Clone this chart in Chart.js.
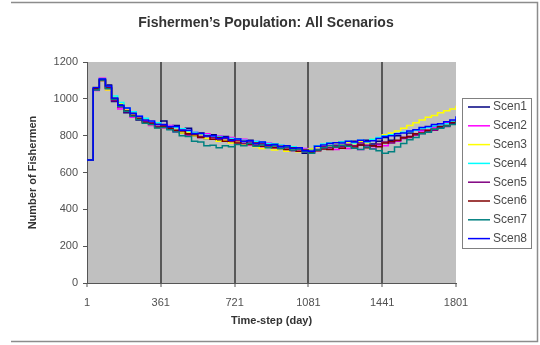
<!DOCTYPE html>
<html>
<head>
<meta charset="utf-8">
<script src="https://cdn.jsdelivr.net/npm/chart.js@4"></script>
<style>
  html, body { margin: 0; padding: 0; background: #ffffff; }
  #wrap { width: 540px; height: 345px; }
</style>
</head>
<body>
<div id="wrap"><canvas id="chart" width="540" height="345"></canvas></div>
<script>
// Sampling days (monthly steps over the 1801-day run)
const days = [1,31,61,91,121,151,181,211,241,271,301,331,361,391,421,451,481,511,541,571,
  601,631,661,691,721,751,781,811,841,871,901,931,961,991,1021,1051,1081,1111,1141,1171,
  1201,1231,1261,1291,1321,1351,1381,1411,1441,1471,1501,1531,1561,1591,1621,1651,1681,1711,1741,1771,1801];

// Fishermen counts per scenario
const scen1 = [668,1055,1100,1075,985,970,925,930,885,880,870,860,880,845,855,815,840,800,815,785,
  805,775,795,765,780,755,775,745,760,740,755,730,745,720,735,705,725,745,735,760,
  740,765,745,770,750,775,755,770,790,775,800,790,815,805,830,825,850,845,870,865,890];
const scen2 = [668,1045,1112,1050,995,945,940,900,905,880,855,870,840,855,820,835,800,820,790,810,
  780,800,770,790,760,780,750,770,740,760,735,750,725,740,715,730,705,720,730,745,
  725,750,730,745,725,740,730,750,745,765,770,790,795,805,825,830,845,855,870,880,900];
const scen3 = [668,1062,1098,1048,1010,975,940,915,890,890,860,865,845,835,845,815,820,800,805,785,
  790,770,775,760,768,750,755,740,730,738,722,728,715,722,712,718,728,740,750,745,
  760,748,765,758,770,762,780,785,805,815,825,840,855,870,885,900,910,925,935,945,962];
const scen4 = [668,1058,1108,1065,1015,980,950,930,905,895,875,870,855,850,845,838,825,818,810,802,
  795,795,785,785,780,775,770,770,765,758,755,750,745,740,730,725,720,745,755,760,
  750,765,770,760,775,765,780,790,800,805,812,818,822,830,840,845,852,858,865,878,900];
const scen5 = [668,1050,1100,1062,990,955,930,920,888,875,870,850,855,835,825,830,805,812,795,800,
  790,780,785,770,772,758,765,750,755,738,745,730,735,720,728,712,715,725,740,735,
  748,740,752,745,760,748,742,755,765,760,772,785,790,805,812,825,830,848,850,870,880];
const scen6 = [668,1055,1105,1058,1000,960,935,910,895,870,865,845,850,840,830,825,810,805,790,800,
  780,790,770,778,760,770,752,760,742,750,735,742,725,735,715,722,708,718,728,725,
  740,732,745,738,750,735,745,740,760,768,775,790,795,810,815,830,835,850,855,872,885];
const scen7 = [668,1048,1102,1055,998,960,932,905,888,868,860,842,845,832,820,800,795,770,765,745,
  748,735,745,740,752,745,758,742,750,735,745,730,738,722,728,712,705,722,735,745,
  738,748,742,732,725,738,728,718,705,712,738,758,778,790,810,818,835,840,852,860,878];
const scen8 = [668,1062,1108,1070,1005,965,950,920,905,885,880,862,860,848,850,830,830,810,812,798,
  800,785,790,775,782,768,772,758,765,748,752,740,745,732,735,718,715,742,750,758,
  762,760,770,765,775,768,772,785,795,800,810,815,825,832,845,850,860,865,875,885,905];

const seriesNames = ['Scen1','Scen2','Scen3','Scen4','Scen5','Scen6','Scen7','Scen8'];
const seriesValues = [scen1, scen2, scen3, scen4, scen5, scen6, scen7, scen8];
const seriesColors = ['#000080','#ff00ff','#ffff00','#00ffff','#800080','#800000','#008080','#0000ff'];

const xTickValues = [1, 361, 721, 1081, 1441, 1801];
const yMin = 0, yMax = 1200, yStep = 200;

const chartTitle = 'Fishermen\u2019s Population: All Scenarios';
const xTitle = 'Time-step (day)';
const yTitle = 'Number of Fishermen';

// Each value holds until the next sampling day
const datasets = seriesNames.map((name, i) => ({
  label: name,
  data: days.map((d, k) => ({ x: d, y: seriesValues[i][k] })),
  borderColor: seriesColors[i],
  backgroundColor: seriesColors[i],
  borderWidth: 1.5,
  pointRadius: 0,
  stepped: 'before',
  fill: false,
  order: seriesNames.length - i
}));

// Grey plot area
const plotBackground = {
  id: 'plotBackground',
  beforeDraw(chart) {
    const { ctx, chartArea: a } = chart;
    ctx.save();
    ctx.fillStyle = '#c0c0c0';
    ctx.fillRect(a.left, a.top, a.right - a.left, a.bottom - a.top);
    ctx.restore();
  }
};

// Heading, outer frame and boxed legend
const decorations = {
  id: 'decorations',
  afterDraw(chart) {
    const ctx = chart.ctx;
    ctx.save();
    // frame
    ctx.strokeStyle = '#8c8c8c';
    ctx.lineWidth = 1.5;
    ctx.beginPath();
    ctx.moveTo(11, 2.5); ctx.lineTo(537.5, 2.5); ctx.lineTo(537.5, 341.5); ctx.lineTo(11, 341.5);
    ctx.stroke();
    // heading
    ctx.fillStyle = '#333333';
    ctx.font = 'bold 14px "Liberation Sans", Arial, sans-serif';
    ctx.textAlign = 'center';
    ctx.textBaseline = 'middle';
    ctx.fillText(chartTitle, 266, 23);
    // legend box
    const lx = 462, ly = 98, lw = 69, lh = 150;
    ctx.fillStyle = '#ffffff';
    ctx.fillRect(lx, ly, lw, lh);
    ctx.strokeStyle = '#808080';
    ctx.lineWidth = 1;
    ctx.strokeRect(lx + 0.5, ly + 0.5, lw, lh);
    ctx.font = '12px "Liberation Sans", Arial, sans-serif';
    ctx.textAlign = 'left';
    chart.data.datasets.forEach((ds, i) => {
      const y = 107 + i * 18.8;
      ctx.strokeStyle = ds.borderColor;
      ctx.lineWidth = 1.5;
      ctx.beginPath();
      ctx.moveTo(468, y); ctx.lineTo(490, y);
      ctx.stroke();
      ctx.fillStyle = '#4a4a4a';
      ctx.fillText(ds.label, 493, y);
    });
    ctx.restore();
  }
};

new Chart(document.getElementById('chart'), {
  type: 'line',
  data: { datasets },
  options: {
    responsive: false,
    animation: false,
    devicePixelRatio: 1,
    layout: { padding: { left: 0, right: 84, top: 62, bottom: 0 } },
    plugins: {
      legend: { display: false },
      title: { display: false },
      tooltip: { enabled: false }
    },
    scales: {
      x: {
        type: 'linear',
        min: xTickValues[0],
        max: xTickValues[xTickValues.length - 1],
        afterBuildTicks(scale) { scale.ticks = xTickValues.map(v => ({ value: v })); },
        afterFit(scale) { scale.height = 62; },
        grid: {
          color: (c) => (c.tick && (c.tick.value === xTickValues[0] || c.tick.value === xTickValues[xTickValues.length - 1])) ? 'rgba(0,0,0,0)' : '#585858',
          lineWidth: 2,
          tickColor: '#555555',
          tickWidth: 1,
          tickLength: 4
        },
        border: { display: true, color: '#555555', width: 1 },
        ticks: {
          autoSkip: false,
          maxRotation: 0,
          padding: 9,
          color: '#505050',
          font: { family: '"Liberation Sans", Arial, sans-serif', size: 11 },
          callback: (v) => String(v)
        },
        title: {
          display: true,
          text: xTitle,
          color: '#333333',
          font: { family: '"Liberation Sans", Arial, sans-serif', size: 11, weight: 'bold' },
          padding: { top: 0, bottom: 17 }
        }
      },
      y: {
        min: yMin,
        max: yMax,
        afterFit(scale) { scale.width = 87; },
        ticks: {
          stepSize: yStep,
          padding: 5,
          color: '#505050',
          font: { family: '"Liberation Sans", Arial, sans-serif', size: 11 },
          callback: (v) => String(v)
        },
        grid: {
          drawOnChartArea: false,
          tickColor: '#555555',
          tickLength: 4,
          tickWidth: 1
        },
        border: { display: true, color: '#555555', width: 1 },
        title: {
          display: true,
          text: yTitle,
          color: '#333333',
          font: { family: '"Liberation Sans", Arial, sans-serif', size: 11, weight: 'bold' },
          padding: { top: 26, bottom: 0 }
        }
      }
    }
  },
  plugins: [plotBackground, decorations]
});
</script>
</body>
</html>
